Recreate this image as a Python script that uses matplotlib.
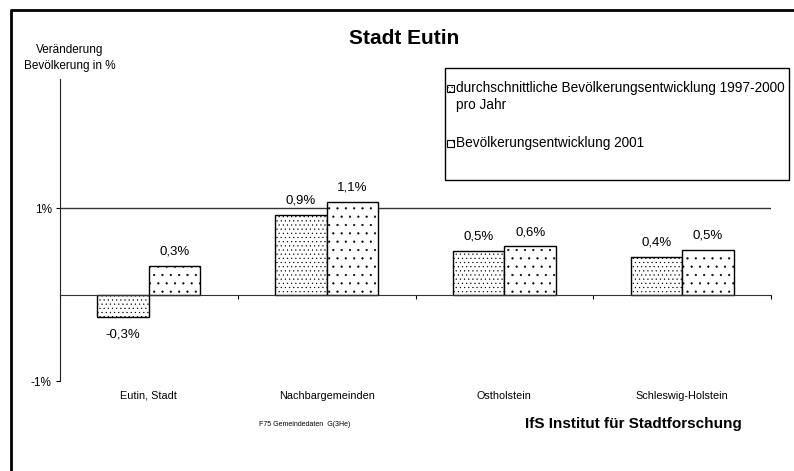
import numpy as np
import matplotlib as mpl
import matplotlib.pyplot as plt
from matplotlib.patches import Rectangle
from matplotlib.lines import Line2D

mpl.rcParams['font.family'] = 'Liberation Sans'
mpl.rcParams['hatch.linewidth'] = 0.35

categories = ['Eutin, Stadt', 'Nachbargemeinden', 'Ostholstein', 'Schleswig-Holstein']
avg_9700 = [-0.26, 0.92, 0.51, 0.44]
dev_2001 = [0.33, 1.08, 0.56, 0.52]
lbl_9700 = ['-0,3%', '0,9%', '0,5%', '0,4%']
lbl_2001 = ['0,3%', '1,1%', '0,6%', '0,5%']
series_names = ['durchschnittliche Bevölkerungsentwicklung 1997-2000\npro Jahr',
                'Bevölkerungsentwicklung 2001']

fig = plt.figure(figsize=(7.94, 4.71), dpi=100)
ax = fig.add_axes([60/794, 1-381/471, 711/794, 302/471])

x = np.arange(len(categories))
w = 0.29
b1 = ax.bar(x - w/2, avg_9700, w, color='white', edgecolor='black', lw=1, hatch='....')
b2 = ax.bar(x + w/2, dev_2001, w, color='white', edgecolor='black', lw=1, hatch='..')

for xi, v, s in zip(x - w/2, avg_9700, lbl_9700):
    off = 6 if v >= 0 else -8
    ax.annotate(s, (xi, v), xytext=(0, off), textcoords='offset points',
                ha='center', va='bottom' if v >= 0 else 'top', fontsize=9.5)
for xi, v, s in zip(x + w/2, dev_2001, lbl_2001):
    off = 6 if v >= 0 else -8
    ax.annotate(s, (xi, v), xytext=(0, off), textcoords='offset points',
                ha='center', va='bottom' if v >= 0 else 'top', fontsize=9.5)

ax.set_xlim(-0.5, len(categories) - 0.5)
ax.set_ylim(-1, 2.5)
ax.axhline(1, color='#333333', lw=1, zorder=0)

ax.spines['top'].set_visible(False)
ax.spines['right'].set_visible(False)
ax.spines['bottom'].set_position(('data', 0))
ax.spines['bottom'].set_color('#333333')
ax.spines['left'].set_color('#222222')

ax.set_xticks(np.arange(len(categories) + 1) - 0.5)
ax.set_xticklabels([])
ax.tick_params(axis='x', direction='out', length=3, width=0.8)
ax.set_yticks([-1, 1])
ax.set_yticklabels(['-1%', '1%'], fontsize=8.5)
ax.tick_params(axis='y', direction='out', length=3, width=0.8, pad=3)

for xi, c in zip(x, categories):
    ax.annotate(c, (xi, -1), xytext=(0, -7), textcoords='offset points',
                ha='center', va='top', fontsize=7.8)

fig.text(404/794, 1-38/471, 'Stadt Eutin', ha='center', va='center',
         fontsize=15, fontweight='bold')
fig.text(70/794, 1-58/471, 'Veränderung\nBevölkerung in %', ha='center', va='center',
         fontsize=8.5, linespacing=1.4)

# legend box
fig.patches.append(Rectangle((445/794, 1-180/471), 344/794, 112/471,
                             transform=fig.transFigure, facecolor='white',
                             edgecolor='black', lw=1))
for name, hatch, ty in zip(series_names, ['....', '..'], [88, 143]):
    fig.patches.append(Rectangle((447/794, 1-(ty+4)/471), 7/794, 7/471,
                                 transform=fig.transFigure, facecolor='white',
                                 edgecolor='black', lw=0.8, hatch=hatch))
    fig.text(456/794, 1-(ty-7)/471, name, ha='left', va='top', fontsize=9.8,
             linespacing=1.25)

fig.text(305/794, 1-425/471, 'F75 Gemeindedaten  G(3He)', ha='center', va='center',
         fontsize=5)
fig.text(633/794, 1-424/471, 'IfS Institut für Stadtforschung', ha='center',
         va='center', fontsize=11, fontweight='bold')

# outer frame (left and top edges visible)
fig.lines.append(Line2D([11/794, 11/794, 1.0], [0.0, 1-10/471, 1-10/471],
                        transform=fig.transFigure, color='black', lw=2))

fig.savefig('out.png', dpi=100)
